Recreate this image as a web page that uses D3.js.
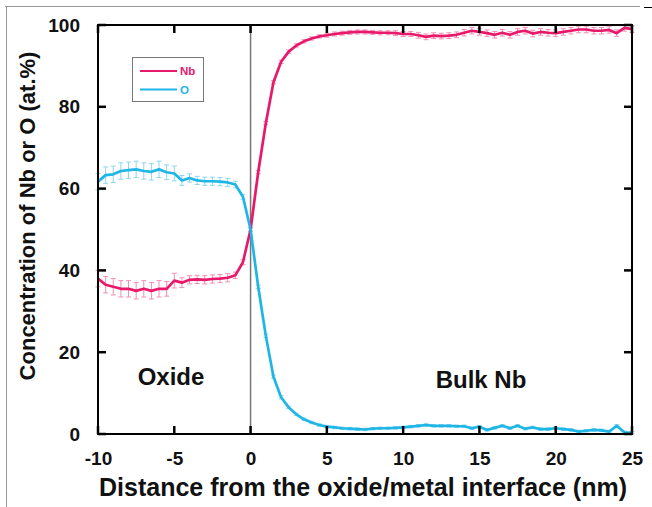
<!DOCTYPE html>
<html><head><meta charset="utf-8">
<script src="https://cdn.jsdelivr.net/npm/d3@7"></script>
<style>
html,body{margin:0;padding:0;background:#fff;}
text{font-family:"Liberation Sans",Arial,sans-serif;font-weight:bold;}
</style></head>
<body><svg id="c" width="652" height="507"></svg>
<script>
const distance = [-10,-9.5,-9,-8.5,-8,-7.5,-7,-6.5,-6,-5.5,-5,-4.5,-4,-3.5,-3,-2.5,-2,-1.5,-1,-0.5,
 0,0.5,1,1.5,2,2.5,3,3.5,4,4.5,5,5.5,6,6.5,7,7.5,8,8.5,9,9.5,
 10,10.5,11,11.5,12,12.5,13,13.5,14,14.5,15,15.5,16,16.5,17,17.5,18,18.5,19,19.5,
 20,20.5,21,21.5,22,22.5,23,23.5,24,24.5,25];
const nb = [38.0,36.5,36.0,35.5,35.5,35.0,35.5,35.0,35.5,35.5,37.5,37.0,37.7,37.8,37.7,37.9,38.0,38.2,38.8,42.0,
 50.0,64,76,86,91,93.5,95,96,96.7,97.2,97.5,97.8,98.0,98.2,98.3,98.3,98.2,98.1,98.1,98.0,
 97.8,97.8,97.5,97.1,97.4,97.3,97.4,97.6,98.1,98.6,98.3,98.0,97.6,98.1,97.6,98.3,98.6,97.9,98.3,98.1,
 98.0,98.3,98.6,98.9,98.9,98.6,98.6,98.8,98.0,99.3,99.0];
const oxy = [61.7,63.3,63.5,64.3,64.5,64.7,64.3,64.1,64.7,64.0,63.7,62.0,62.6,62.0,61.8,61.8,61.7,61.5,61.0,58.0,
 50,36,24,14,9,6.5,4.8,3.6,2.8,2.2,1.8,1.6,1.4,1.3,1.2,1.1,1.3,1.4,1.4,1.5,
 1.6,1.8,2.0,2.2,2.0,2.0,2.0,1.9,1.9,1.4,1.8,1.0,1.5,2.0,1.4,2.0,1.3,1.6,1.2,1.2,
 1.4,1.2,1.0,0.6,0.8,1.0,0.9,0.6,2.0,0.4,0.3];
const nbErr = [2,2,2,2,2,2,2,2,2,1.8,1.8,1.2,1,1,1,1,1,1,0.8,0.6,
 0.4,0.4,0.4,0.4,0.4,0.4,0.4,0.4,0.4,0.4,0.5,0.5,0.5,0.5,0.5,0.5,0.5,0.5,0.5,0.6,
 0.6,0.6,0.7,0.7,0.7,0.7,0.7,0.7,0.8,0.8,0.8,0.8,0.8,0.8,0.8,0.8,0.8,0.8,0.8,0.8,
 0.8,0.8,0.8,0.8,0.8,0.8,0.8,0.8,0.8,0.8,0.8];
const oErr = [2,2,2,2,2,2,2,2,2,1.8,1.8,1.2,1,1,1,1,1,1,0.8,0.6,
 0.4,0.4,0.4,0.4,0.4,0.3,0.3,0.3,0.3,0.3,0.3,0.3,0.3,0.3,0.3,0.3,0.3,0.3,0.3,0.3,
 0.3,0.3,0.3,0.3,0.3,0.3,0.3,0.3,0.3,0.3,0.3,0.3,0.3,0.3,0.3,0.3,0.3,0.3,0.3,0.3,
 0.3,0.3,0.3,0.3,0.3,0.3,0.3,0.3,0.3,0.3,0.3];
const xTicks = [-10,-5,0,5,10,15,20,25];
const yTicks = [0,20,40,60,80,100];
const seriesNames = ["Nb","O"];
const colors = {Nb:"#e8186b", O:"#1fb6e6"};
const errColors = {Nb:"#f090b4", O:"#8ed6f0"};

const svg = d3.select("#c");
const L=98, R=632, T=25, B=434;
const x = d3.scaleLinear().domain([-10,25]).range([L,R]);
const y = d3.scaleLinear().domain([0,100]).range([B,T]);
const fmt = d => String(d); // hyphen-minus like the original

// outer frame
svg.append("line").attr("x1",5).attr("x2",640).attr("y1",6.5).attr("y2",6.5).attr("stroke","#999").attr("stroke-width",1);
svg.append("line").attr("x1",6.5).attr("x2",6.5).attr("y1",6).attr("y2",507).attr("stroke","#999").attr("stroke-width",1);
svg.append("line").attr("x1",644).attr("x2",652).attr("y1",7.5).attr("y2",7.5).attr("stroke","#000").attr("stroke-width",1);

// interface line
svg.append("line").attr("x1",x(0)).attr("x2",x(0)).attr("y1",T).attr("y2",B).attr("stroke","#777").attr("stroke-width",1.5);

// axis labels via d3 axes
const gB = svg.append("g").attr("transform",`translate(0,${B})`)
 .call(d3.axisBottom(x).tickValues(xTicks).tickSize(0).tickFormat(fmt));
const gL = svg.append("g").attr("transform",`translate(${L},0)`)
 .call(d3.axisLeft(y).tickValues(yTicks).tickSize(0).tickFormat(fmt));
[gB,gL].forEach(g=>{g.select(".domain").remove(); g.selectAll(".tick line").remove();});
gB.selectAll("text").attr("font-size",19).attr("fill","#111").attr("y",18).attr("dy","0.71em")
 .attr("font-family","'Liberation Sans',Arial,sans-serif").attr("font-weight","bold");
gL.selectAll("text").attr("font-size",19).attr("fill","#111").attr("x",-18)
 .attr("font-family","'Liberation Sans',Arial,sans-serif").attr("font-weight","bold");

// series
const series = [{name:"Nb", v:nb, e:nbErr},{name:"O", v:oxy, e:oErr}];
series.forEach(s=>{
  const g = svg.append("g");
  distance.forEach((d,i)=>{
    const x0=x(d), y1=y(s.v[i]+s.e[i]), y2=y(s.v[i]-s.e[i]);
    g.append("line").attr("x1",x0).attr("x2",x0).attr("y1",y1).attr("y2",y2).attr("stroke",errColors[s.name]).attr("stroke-width",1);
    g.append("line").attr("x1",x0-2.5).attr("x2",x0+2.5).attr("y1",y1).attr("y2",y1).attr("stroke",errColors[s.name]).attr("stroke-width",1);
    g.append("line").attr("x1",x0-2.5).attr("x2",x0+2.5).attr("y1",y2).attr("y2",y2).attr("stroke",errColors[s.name]).attr("stroke-width",1);
  });
});
series.forEach(s=>{
  const line = d3.line().x((d,i)=>x(d)).y((d,i)=>y(s.v[i]));
  svg.append("path").datum(distance).attr("d",line).attr("fill","none")
   .attr("stroke",colors[s.name]).attr("stroke-width",2.7).attr("stroke-linejoin","round");
});

// plot box
svg.append("rect").attr("x",L).attr("y",T).attr("width",R-L).attr("height",B-T)
 .attr("fill","none").attr("stroke","#000").attr("stroke-width",2);

// inward ticks on all four sides
const tl = 8;
xTicks.forEach(v=>{
  svg.append("line").attr("x1",x(v)).attr("x2",x(v)).attr("y1",B).attr("y2",B-tl).attr("stroke","#000").attr("stroke-width",2.5);
  svg.append("line").attr("x1",x(v)).attr("x2",x(v)).attr("y1",T).attr("y2",T+tl).attr("stroke","#000").attr("stroke-width",2.5);
});
yTicks.forEach(v=>{
  svg.append("line").attr("x1",L).attr("x2",L+tl).attr("y1",y(v)).attr("y2",y(v)).attr("stroke","#000").attr("stroke-width",2.5);
  svg.append("line").attr("x1",R).attr("x2",R-tl).attr("y1",y(v)).attr("y2",y(v)).attr("stroke","#000").attr("stroke-width",2.5);
});

// legend
svg.append("rect").attr("x",132.5).attr("y",57.5).attr("width",71).attr("height",44).attr("fill","#fff").attr("stroke","#777").attr("stroke-width",1);
seriesNames.forEach((n,i)=>{
  const yy = 71 + i*18.5;
  svg.append("line").attr("x1",140).attr("x2",177).attr("y1",yy).attr("y2",yy).attr("stroke",colors[n]).attr("stroke-width",2);
  svg.append("text").attr("x",180).attr("y",yy).attr("dy","0.36em").attr("font-size",11.5).attr("font-weight","normal")
   .attr("fill",colors[n]).text(n);
});

// annotations
svg.append("text").attr("x",171).attr("y",385).attr("text-anchor","middle").attr("font-size",24).attr("fill","#111").text("Oxide");
svg.append("text").attr("x",481).attr("y",388).attr("text-anchor","middle").attr("font-size",24).attr("fill","#111").text("Bulk Nb");

// axis titles
svg.append("text").attr("x",363).attr("y",496).attr("text-anchor","middle").attr("font-size",25).attr("fill","#111")
 .text("Distance from the oxide/metal interface (nm)");
svg.append("text").attr("transform","translate(35,216) rotate(-90)").attr("text-anchor","middle").attr("font-size",22).attr("fill","#111")
 .text("Concentration of Nb or O (at.%)");
</script></body></html>
